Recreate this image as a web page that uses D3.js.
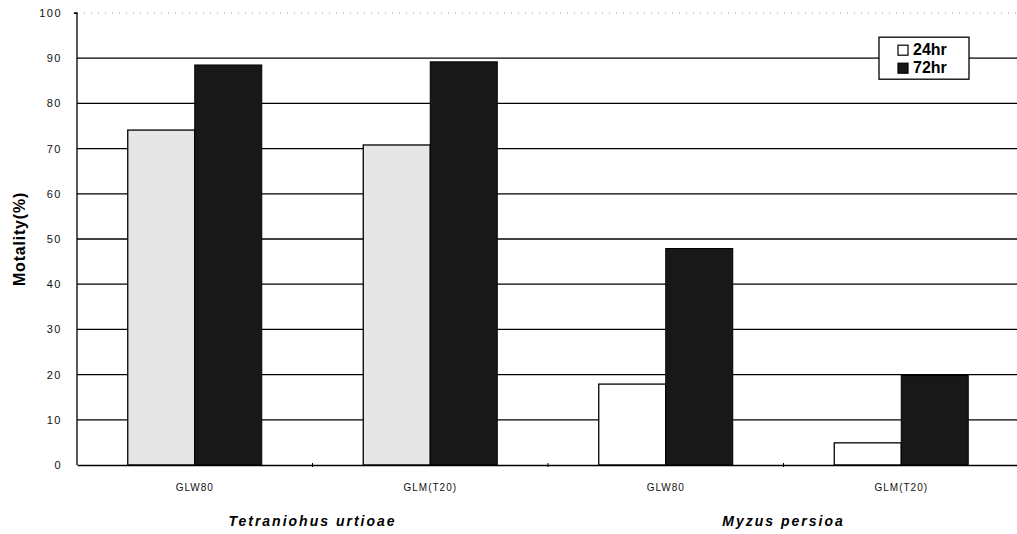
<!DOCTYPE html>
<html>
<head>
<meta charset="utf-8">
<script src="https://cdn.jsdelivr.net/npm/d3@7"></script>
<style>
  body { margin: 0; background: #fff; }
  text { font-family: "Liberation Sans", Arial, sans-serif; }
</style>
</head>
<body>
<div id="chart"></div>
<script>
// data
let categories = ["GLW80", "GLM(T20)", "GLW80", "GLM(T20)"];
let groups = ["Tetraniohus urtioae", "Myzus persioa"];
let series = ["24hr", "72hr"];
let hr24 = [74.1, 70.8, 17.9, 4.9];
let hr72 = [88.5, 89.2, 47.9, 19.8];
let yTicks = [0, 10, 20, 30, 40, 50, 60, 70, 80, 90, 100];

let margin = {top: 13, right: -2, bottom: 69, left: 77};
let width = 1017 - margin.left - margin.right;
let height = 534 - margin.top - margin.bottom;

let svg = d3.select("#chart").append("svg")
    .attr("width", 1017)
    .attr("height", 534)
    .append("g")
    .attr("transform", `translate(${margin.left}, ${margin.top})`);

let x = d3.scaleBand()
    .domain(d3.range(categories.length))
    .range([0, width]);

let y = d3.scaleLinear()
    .domain([0, 100])
    .range([height, 0]);

let barW = 67;

// gridlines
svg.selectAll(".grid")
    .data(yTicks.filter(d => d > 0))
    .enter().append("line")
    .attr("x1", 0).attr("x2", width)
    .attr("y1", d => y(d)).attr("y2", d => y(d))
    .attr("stroke", d => d === 100 ? "#bbb" : "#000")
    .attr("stroke-dasharray", d => d === 100 ? "1,6" : null)
    .attr("stroke-width", 1.3);

// bars
let rows = categories.map((c, i) => ({i: i, v24: hr24[i], v72: hr72[i]}));

svg.selectAll(".bar24")
    .data(rows)
    .enter().append("rect")
    .attr("x", d => x(d.i) + x.bandwidth() / 2 - barW)
    .attr("y", d => y(d.v24))
    .attr("width", barW)
    .attr("height", d => height - y(d.v24))
    .attr("fill", d => d.i < 2 ? "#e6e6e6" : "#fff")
    .attr("stroke", "#000")
    .attr("stroke-width", 1.3);

svg.selectAll(".bar72")
    .data(rows)
    .enter().append("rect")
    .attr("x", d => x(d.i) + x.bandwidth() / 2)
    .attr("y", d => y(d.v72))
    .attr("width", barW)
    .attr("height", d => height - y(d.v72))
    .attr("fill", "#181818")
    .attr("stroke", "#000")
    .attr("stroke-width", 1);

// y axis
let yAxis = d3.axisLeft(y).tickValues(yTicks).tickSize(3).tickPadding(12);
let yg = svg.append("g").call(yAxis);
yg.select(".domain").attr("stroke-width", 1.3).attr("d", `M-3,0H0V${height}`);
yg.selectAll(".tick line").filter(d => d !== 100).remove();
yg.selectAll("text")
    .attr("font-size", 11)
    .attr("letter-spacing", 1.5)
    .attr("fill", "#111");

// x axis
let xg = svg.append("g")
    .attr("transform", `translate(0, ${height})`)
    .call(d3.axisBottom(x).tickFormat(i => categories[i]).tickSize(0).tickPadding(19));
xg.select(".domain").attr("stroke-width", 1.3);
xg.selectAll("text").attr("font-size", 10).attr("letter-spacing", 1).attr("fill", "#111");

// small separators between categories
svg.selectAll(".sep")
    .data(d3.range(1, categories.length))
    .enter().append("line")
    .attr("x1", d => x(d)).attr("x2", d => x(d))
    .attr("y1", height - 2).attr("y2", height + 2)
    .attr("stroke", "#000");

// species labels
svg.selectAll(".group")
    .data(groups)
    .enter().append("text")
    .attr("x", (d, i) => x(i * 2) + x.bandwidth())
    .attr("y", height + 61)
    .attr("text-anchor", "middle")
    .attr("font-size", 14)
    .attr("font-weight", "bold")
    .attr("font-style", "italic")
    .attr("letter-spacing", 2)
    .text(d => d);

// y title
svg.append("text")
    .attr("transform", `translate(${-52}, ${y(50)}) rotate(-90)`)
    .attr("text-anchor", "middle")
    .attr("font-size", 16)
    .attr("font-weight", "bold")
    .attr("letter-spacing", 0.8)
    .text("Motality(%)");

// legend, centred on the 90 gridline
let lg = svg.append("g").attr("transform", `translate(${879 - margin.left}, ${y(90) - 21})`);
lg.append("rect")
    .attr("width", 90).attr("height", 42)
    .attr("fill", "#fff").attr("stroke", "#000").attr("stroke-width", 1.3);
series.forEach((s, i) => {
    lg.append("rect")
        .attr("x", 19).attr("y", 8 + i * 18)
        .attr("width", 10).attr("height", 10)
        .attr("fill", i === 0 ? "#fff" : "#181818")
        .attr("stroke", "#000").attr("stroke-width", 1.2);
    lg.append("text")
        .attr("x", 34).attr("y", 18 + i * 18)
        .attr("font-size", 16)
        .attr("font-weight", "bold")
        .text(s);
});
</script>
</body>
</html>
